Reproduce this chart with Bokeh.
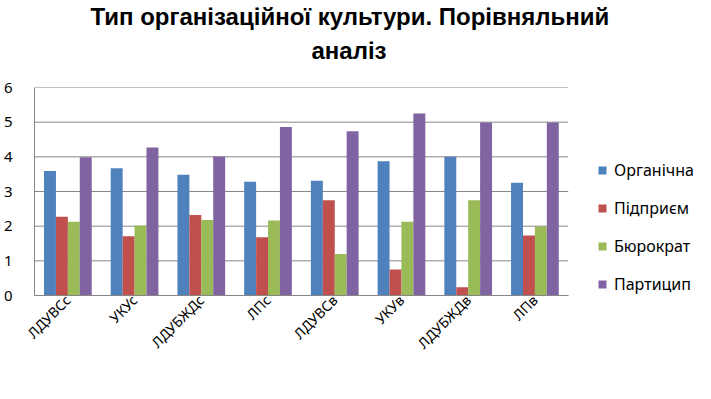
from math import pi
from bokeh.plotting import figure
from bokeh.models import (Range1d, Legend, LegendItem, Title, FixedTicker,
                          ColumnDataSource)
from bokeh.transform import dodge
from bokeh.embed import file_html
from bokeh.resources import INLINE

categories = ["ЛДУВСс", "УКУс", "ЛДУБЖДс", "ЛПс", "ЛДУВСв", "УКУв", "ЛДУБЖДв", "ЛПв"]
series_names = ["Органічна", "Підприєм", "Бюрократ", "Партицип"]
organichna = [3.59, 3.67, 3.48, 3.28, 3.31, 3.87, 4.00, 3.25]
pidpryiem = [2.27, 1.71, 2.32, 1.68, 2.75, 0.75, 0.24, 1.73]
biurokrat = [2.13, 2.02, 2.18, 2.16, 1.20, 2.13, 2.75, 1.99]
partytsyp = [3.99, 4.27, 4.01, 4.86, 4.74, 5.25, 4.99, 4.99]
y_ticks = [0, 1, 2, 3, 4, 5, 6]
colors = ["#4F81BD", "#C0504D", "#9BBB59", "#8064A2"]
title_lines = ["Тип організаційної культури. Порівняльний", "аналіз"]

n = len(categories)
centers = [i + 0.5 for i in range(n)]
source = ColumnDataSource(dict(xc=centers, s0=organichna, s1=pidpryiem,
                               s2=biurokrat, s3=partytsyp))

font = "Noto Sans"
tfont = "Liberation Sans"
grid_col = "#868686"

# the category area is 537 px wide; the frame continues under the legend
x_end = n * 665.0 / 537.0
p = figure(width=695, height=383, x_range=Range1d(0, x_end),
           y_range=Range1d(y_ticks[0], y_ticks[-1]), output_backend="svg",
           toolbar_location=None, min_border_left=0, min_border_right=0,
           min_border_top=0, min_border_bottom=88)

# horizontal grid lines, limited to the category area
p.segment(x0=[0] * len(y_ticks), x1=[n] * len(y_ticks), y0=y_ticks, y1=y_ticks,
          line_color=grid_col, line_width=1)

bw = 0.179
offsets = [-0.268, -0.089, 0.089, 0.268]
items = []
for i, (name, col) in enumerate(zip(series_names, colors)):
    r = p.vbar(x=dodge("xc", offsets[i]), top="s%d" % i, width=bw,
               source=source, fill_color=col, line_color=None)
    items.append(LegendItem(label=name, renderers=[r]))

legend = Legend(items=items, location=(563, 0), padding=0, margin=0,
                spacing=16, glyph_width=10, glyph_height=10, label_height=20,
                label_standoff=7, label_text_font=font,
                label_text_font_size="16px", label_text_color="#000000",
                border_line_color=None, background_fill_alpha=0)
p.add_layout(legend)

# blank spacer between the title and the plot area
p.add_layout(Title(text=" ", text_font_size="1px", standoff=16), "above")
p.add_layout(Title(text=title_lines[1], align="left", offset=277, standoff=10,
                   text_font=tfont, text_font_size="24px",
                   text_font_style="bold", text_color="#000000"), "above")
p.add_layout(Title(text=title_lines[0], align="left", offset=56, standoff=0,
                   text_font=tfont, text_font_size="24px",
                   text_font_style="bold", text_color="#000000"), "above")

p.outline_line_color = None
p.xgrid.grid_line_color = None
p.ygrid.grid_line_color = None

p.yaxis.ticker = FixedTicker(ticks=y_ticks)
p.yaxis.axis_line_color = grid_col
p.yaxis.major_tick_line_color = None
p.yaxis.minor_tick_line_color = None
p.yaxis.major_label_standoff = 16
p.yaxis.major_label_text_font = font
p.yaxis.major_label_text_font_size = "15px"
p.yaxis.major_label_text_color = "#000000"

p.xaxis.ticker = FixedTicker(ticks=centers)
p.xaxis.major_label_overrides = {c: name for c, name in zip(centers, categories)}
p.xaxis.bounds = (0, n)
p.xaxis.axis_line_color = grid_col
p.xaxis.major_tick_line_color = None
p.xaxis.minor_tick_line_color = None
p.xaxis.major_tick_out = 0
p.xaxis.major_tick_in = 0
p.xaxis.major_label_orientation = pi / 4
p.xaxis.major_label_standoff = 2
p.xaxis.major_label_text_font = font
p.xaxis.major_label_text_font_size = "14px"
p.xaxis.major_label_text_color = "#000000"

open("out.html", "w").write(file_html(p, INLINE))
